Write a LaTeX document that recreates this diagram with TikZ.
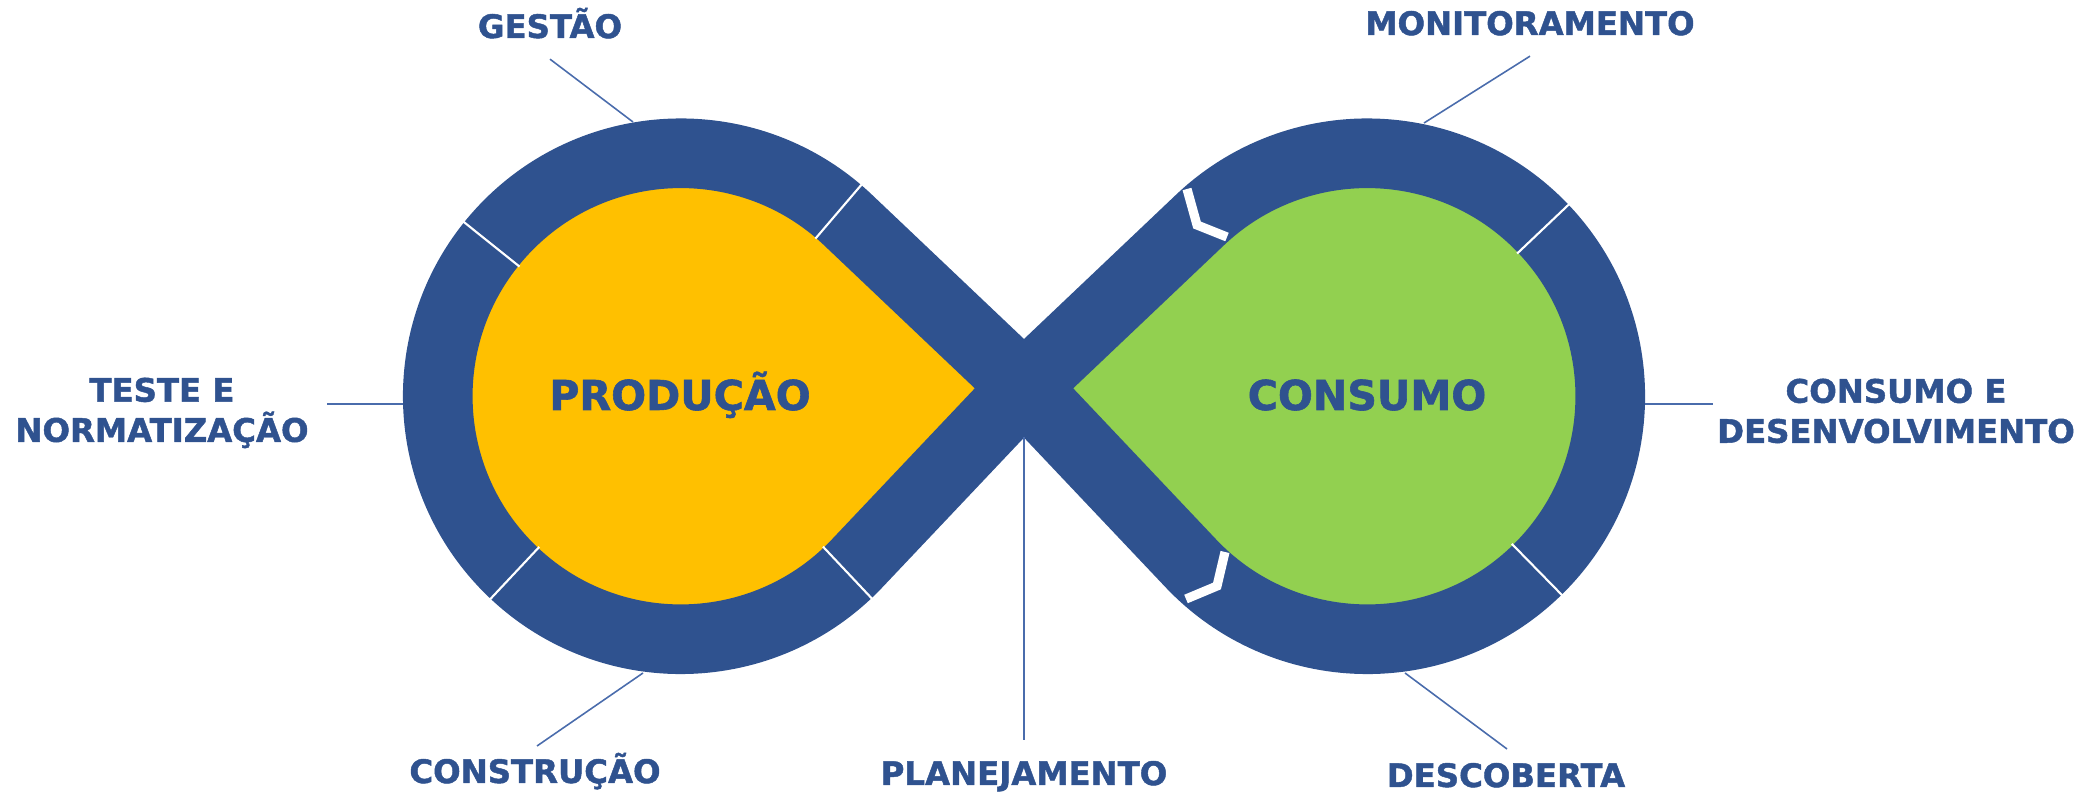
\documentclass[tikz,border=0pt]{standalone}
\usepackage{fontspec}
\setsansfont{DejaVu Sans}[BoldFeatures={FakeBold=1.4}]
\definecolor{band}{HTML}{2F528F}
\definecolor{lead}{HTML}{4A6CAC}
\definecolor{prod}{HTML}{FFC000}
\definecolor{cons}{HTML}{92D050}
\begin{document}
\begin{tikzpicture}[x=0.01cm, y=-0.01cm,
    lbl/.style={font=\sffamily\bfseries\fontsize{9.2pt}{11.4pt}\selectfont, text=band, inner sep=0, align=center},
    big/.style={font=\sffamily\bfseries\fontsize{11.7pt}{14pt}\selectfont, text=band, inner sep=0},
    ring/.style={draw=band, line width=19.8pt},
    leader/.style={color=lead, line width=.45pt},
    divider/.style={white, line width=.6pt},
    chev/.style={white, line width=2.6pt}]
          \useasboundingbox (0,0) rectangle (2094,795);
          \coordinate (x) at (1024,387);
          \coordinate (lc) at (681,396);
          \coordinate (rc) at (1367,396);
          \fill[prod] (x) -- (848,220) arc[start angle=-46.5, end angle=-316.5, radius=243] -- cycle;
          \fill[cons] (x) -- (1200,220) arc[start angle=226.5, end angle=496.5, radius=243] -- cycle;
          \draw[ring] (x) -- (848,220) arc[start angle=-46.5, end angle=-316.5, radius=243] -- cycle;
          \draw[ring] (x) -- (1200,220) arc[start angle=226.5, end angle=496.5, radius=243] -- cycle;
          \foreach \a in {-49.5,-141.3,-226.8,-313.3}
            \draw[divider] (lc) ++(\a:207) -- ++(\a:73);
          \foreach \a in {-43.5,45.6}
            \draw[divider] (rc) ++(\a:207) -- ++(\a:73);
          \draw[chev] (1187,189) -- (1197,225) -- (1227,237);
          \draw[chev] (1225,552) -- (1217,586) -- (1186,599);
          \node [big, anchor=base] (producao) at (680,410) {PRODUÇÃO};
          \node [big, anchor=base] (consumo) at (1367,410) {CONSUMO};
          \node [lbl, anchor=base] (gestao) at (550,38) {GESTÃO};
          \node [lbl, anchor=base] (monit) at (1530,35) {MONITORAMENTO};
          \node [lbl, anchor=north] (teste) at (162,377) {TESTE E\\NORMATIZAÇÃO};
          \node [lbl, anchor=north] (consdes) at (1896,378) {CONSUMO E\\DESENVOLVIMENTO};
          \node [lbl, anchor=base] (constr) at (535,783) {CONSTRUÇÃO};
          \node [lbl, anchor=base] (planej) at (1024,785) {PLANEJAMENTO};
          \node [lbl, anchor=base] (descob) at (1506,787) {DESCOBERTA};
          \coordinate (p-gestao) at (633,122);
          \coordinate (p-monit) at (1424,123);
          \coordinate (p-teste) at (403,404);
          \coordinate (p-consdes) at (1645,404);
          \coordinate (p-constr) at (643,673);
          \coordinate (p-planej) at (1024,437);
          \coordinate (p-descob) at (1405,673);
\draw[leader] (gestao.south) ++(0,20) -- (p-gestao);
\draw[leader] (monit.south) ++(0,20) -- (p-monit);
\draw[leader] (teste.north east) ++(18,27) -- (p-teste);
\draw[leader] (consdes.north west) ++(-4,26) -- (p-consdes);
\draw[leader] (constr.base) ++(2,-37) -- (p-constr);
\draw[leader] (planej.base) ++(0,-45) -- (p-planej);
\draw[leader] (descob.base) ++(1,-38) -- (p-descob);

        \end{tikzpicture}
\end{document}
